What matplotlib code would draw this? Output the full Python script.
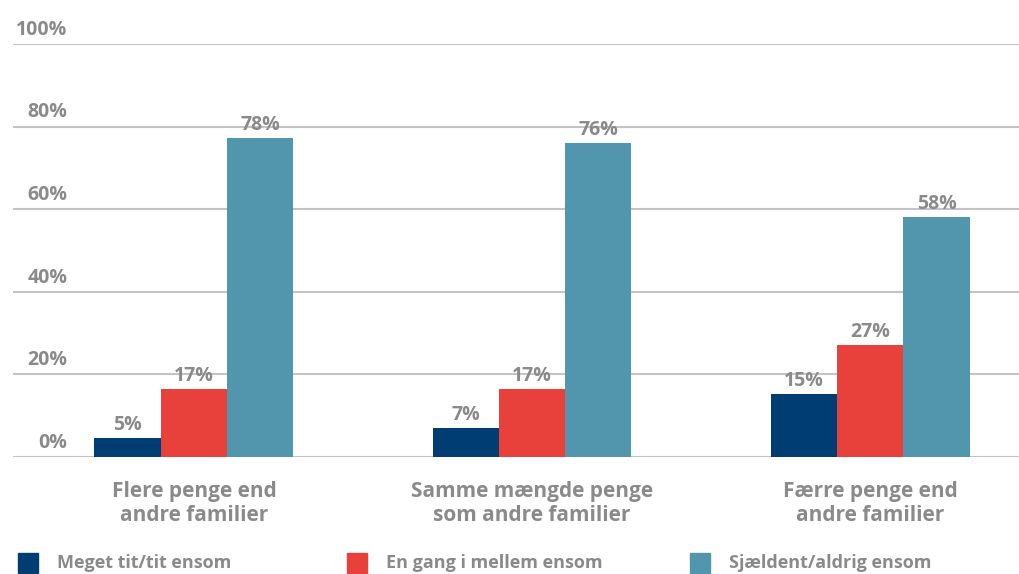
import numpy as np
import matplotlib.pyplot as plt
from matplotlib.patches import Rectangle

plt.rcParams['font.family'] = ['Open Sans', 'DejaVu Sans']

categories = ['Flere penge end\nandre familier', 'Samme mængde penge\nsom andre familier', 'Færre penge end\nandre familier']
series = ['Meget tit/tit ensom', 'En gang i mellem ensom', 'Sjældent/aldrig ensom']
# bar heights, labels as printed
values = [
    [4.6, 7.0, 15.3],
    [16.5, 16.5, 27.1],
    [77.2, 76.0, 58.1],
]
labels = [
    ['5%', '7%', '15%'],
    ['17%', '17%', '27%'],
    ['78%', '76%', '58%'],
]
colors = ['#003d73', '#e8413b', '#5296ad']
grey = '#8a8a8a'
wt = 'bold'

fig = plt.figure(figsize=(10.19, 5.74), dpi=100)
ax = fig.add_axes([13/1019, 1-457/574, 1-13/1019, (457-44)/574])

x = np.arange(len(categories))
w = 0.196
for i, (s, v, lb, c) in enumerate(zip(series, values, labels, colors)):
    bars = ax.bar(x + (i-1)*w, v, w, color=c, zorder=3, label=s)
    ax.bar_label(bars, labels=lb, padding=2, color=grey,
                 fontsize=14, fontweight=wt)

ax.set_ylim(0, 100)
ax.set_xlim(-0.535, 2.44)
ax.set_yticks(range(0, 101, 20))
ax.yaxis.grid(True, color='#c4c4c4', linewidth=1.5, zorder=0)
ax.set_yticklabels([])
for t in range(0, 101, 20):
    ax.annotate(f'{t}%', xy=(0, t), xycoords=('axes fraction', 'data'),
                xytext=(39, 3), textcoords='offset points', ha='right', va='bottom',
                color=grey, fontsize=14, fontweight=wt)
ax.tick_params(axis='y', length=0)
ax.set_xticks(x)
ax.set_xticklabels(categories, color=grey, fontsize=15, fontweight=wt, linespacing=1.2)
ax.tick_params(axis='x', length=0, pad=17)
for sp in ax.spines.values():
    sp.set_visible(False)

# legend
leg_x = [18, 347, 690]
for lx, s, c in zip(leg_x, series, colors):
    fig.patches.append(Rectangle((lx/1019, 1-573/574), 20/1019, 20/574,
                                 transform=fig.transFigure, color=c))
    fig.text((lx+39)/1019, 1-563/574, s, color=grey, fontsize=13,
             fontweight=wt, va='center', ha='left')

fig.savefig('out.png', dpi=100)
